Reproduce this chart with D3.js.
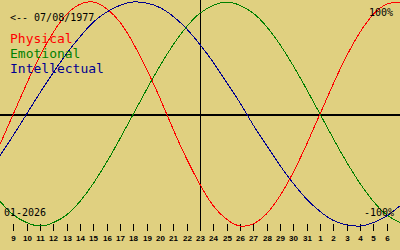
<!DOCTYPE html>
<html>
<head>
<meta charset="utf-8">
<script src="https://cdn.jsdelivr.net/npm/d3@7"></script>
<style>
  body { margin: 0; background: #e0d080; }
  svg { display: block; }
  .mono { font-family: "DejaVu Sans Mono", "Liberation Mono", monospace; }
  .tick-label { font-family: "Liberation Sans", Arial, sans-serif; font-size: 8px; font-weight: bold; }
</style>
</head>
<body>
<svg width="400" height="250"></svg>
<script>
// days shown: Jan 8 .. Feb 7 2026 (day numbers past 31 are February)
const days = d3.range(8, 39)
const physical = [-27, 0, 27, 52, 73, 89, 98, 100, 94, 82, 63, 40, 14, -14, -40, -63, -82, -94, -100, -98, -89, -73, -52, -27, 0, 27, 52, 73, 89, 98, 100]
const emotional = [-78, -90, -97, -100, -97, -90, -78, -62, -43, -22, 0, 22, 43, 62, 78, 90, 97, 100, 97, 90, 78, 62, 43, 22, 0, -22, -43, -62, -78, -90, -97]
const intellectual = [-37, -19, 0, 19, 37, 54, 69, 82, 91, 97, 100, 99, 95, 87, 76, 62, 46, 28, 10, -10, -28, -46, -62, -76, -87, -95, -99, -100, -97, -91, -82]
const tickDays = d3.range(9, 38)
const tickLabels = [9, 10, 11, 12, 13, 14, 15, 16, 17, 18, 19, 20, 21, 22, 23, 24, 25, 26, 27, 28, 29, 30, 31, 1, 2, 3, 4, 5, 6]
const today = 23

const series = [
    {name: "Physical", values: physical, color: "#ff0000"},
    {name: "Emotional", values: emotional, color: "#008000"},
    {name: "Intellectual", values: intellectual, color: "#000090"}
]

const svg = d3.select("svg")
const x = d3.scaleLinear().domain([8, 38]).range([0, 400])
const y = d3.scaleLinear().domain([-100, 100]).range([226, 2])

svg.append("rect").attr("width", 400).attr("height", 250).attr("fill", "#e0d080")

// axes
svg.append("rect")
    .attr("x", 0).attr("y", y(0)).attr("width", 400).attr("height", 2)
    .attr("fill", "black")
svg.append("rect")
    .attr("x", x(today)).attr("y", 0).attr("width", 1).attr("height", 231)
    .attr("fill", "black")

// day ticks
svg.selectAll(".tick")
    .data(tickDays)
    .join("rect")
    .attr("class", "tick")
    .attr("x", d => Math.round(x(d)))
    .attr("y", 224)
    .attr("width", 1)
    .attr("height", 7)
    .attr("fill", "black")
svg.selectAll(".tick-label")
    .data(tickDays)
    .join("text")
    .attr("class", "tick-label")
    .attr("x", d => Math.round(x(d)) + 0.5)
    .attr("y", 241)
    .attr("text-anchor", "middle")
    .text((d, i) => tickLabels[i])

// curves
let line = d3.line()
    .x((d, i) => x(days[i]))
    .y(d => y(d))
    .curve(d3.curveNatural)
svg.selectAll(".curve")
    .data(series)
    .join("path")
    .attr("class", "curve")
    .attr("d", d => line(d.values))
    .attr("fill", "none")
    .attr("stroke", d => d.color)
    .attr("stroke-width", 1)
    .attr("shape-rendering", "crispEdges")

// labels
svg.append("text").attr("class", "mono")
    .attr("x", 10).attr("y", 21).attr("font-size", 10)
    .text("<-- 07/08/1977")
svg.selectAll(".legend")
    .data(series)
    .join("text")
    .attr("class", "legend mono")
    .attr("x", 10)
    .attr("y", (d, i) => 43 + i * 15)
    .attr("font-size", 13)
    .attr("fill", d => d.color)
    .text(d => d.name)
svg.append("text").attr("class", "mono")
    .attr("x", 369).attr("y", 16).attr("font-size", 10)
    .text("100%")
svg.append("text").attr("class", "mono")
    .attr("x", 364).attr("y", 216).attr("font-size", 10)
    .text("-100%")
svg.append("text").attr("class", "mono")
    .attr("x", 4).attr("y", 216).attr("font-size", 10)
    .text("01-2026")
</script>
</body>
</html>
